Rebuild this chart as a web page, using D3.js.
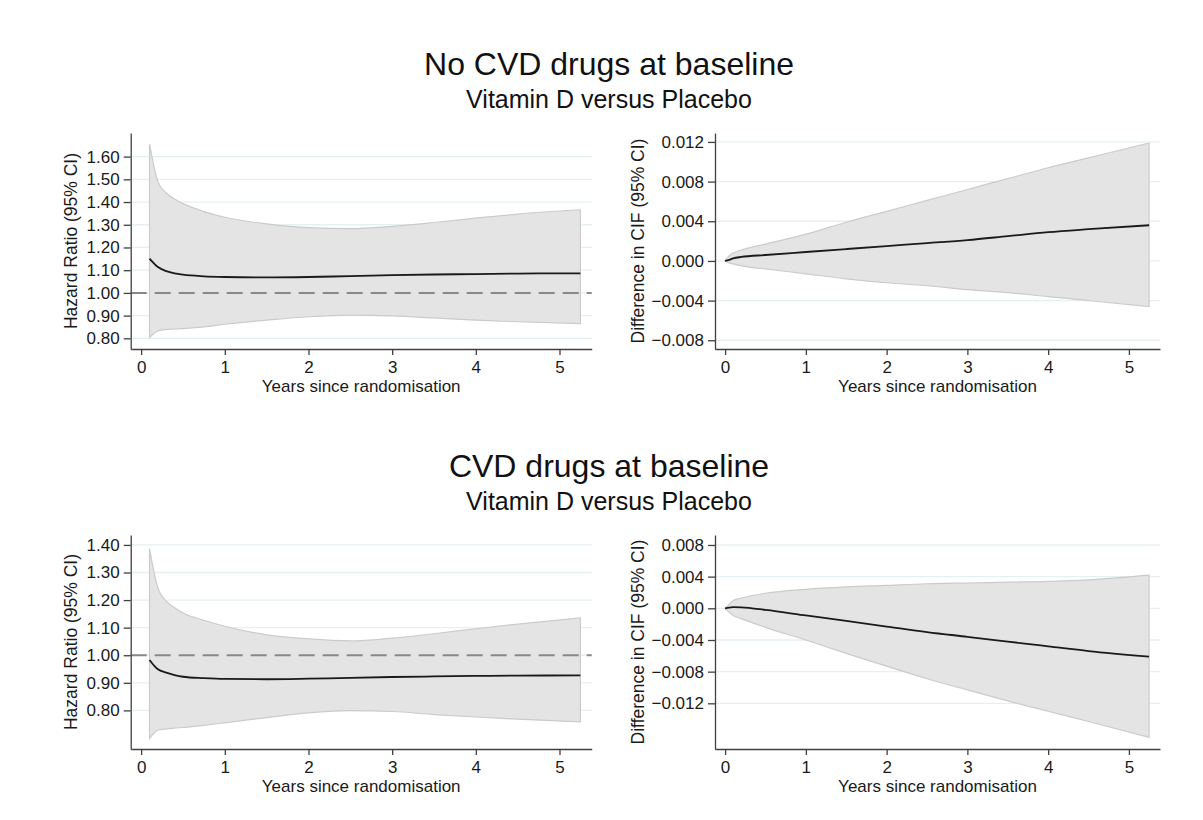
<!DOCTYPE html>
<html>
<head>
<meta charset="utf-8">
<script src="https://cdn.jsdelivr.net/npm/d3@7"></script>
<style>
  body { margin: 0; background: #fff; }
  svg { font-family: "Liberation Sans", Arial, sans-serif; display: block; }
</style>
</head>
<body>
<div class="container"></div>
<script>
// time grids (years since randomisation)
var hrTime  = [0.1, 0.2, 0.3, 0.4, 0.5, 0.75, 1, 1.5, 2, 2.5, 3, 3.5, 4, 4.5, 5.25];
var cifTime = [0, 0.05, 0.1, 0.2, 0.5, 1, 1.5, 2, 2.5, 3, 3.5, 4, 4.5, 5.25];

// No CVD drugs at baseline
var noHrEst   = [1.151, 1.114, 1.096, 1.086, 1.080, 1.073, 1.070, 1.068, 1.070, 1.074, 1.078, 1.081, 1.083, 1.085, 1.086];
var noHrUpper = [1.655, 1.490, 1.440, 1.413, 1.393, 1.358, 1.333, 1.304, 1.287, 1.283, 1.293, 1.310, 1.329, 1.347, 1.366];
var noHrLower = [0.803, 0.833, 0.839, 0.841, 0.843, 0.850, 0.862, 0.880, 0.895, 0.902, 0.899, 0.890, 0.880, 0.873, 0.865];
var noCifEst   = [0, 0.0001, 0.00025, 0.0004, 0.0006, 0.0009, 0.0012, 0.0015, 0.0018, 0.0021, 0.0025, 0.0029, 0.0032, 0.0036];
var noCifUpper = [0, 0.0005, 0.0008, 0.0011, 0.0017, 0.0027, 0.0039, 0.0050, 0.0061, 0.0072, 0.0083, 0.0094, 0.0104, 0.0119];
var noCifLower = [0, -0.0002, -0.0003, -0.0005, -0.0008, -0.0013, -0.0018, -0.0022, -0.0025, -0.0029, -0.0032, -0.0036, -0.0040, -0.0046];

// CVD drugs at baseline
var cvdHrEst   = [0.983, 0.949, 0.937, 0.928, 0.922, 0.917, 0.914, 0.913, 0.915, 0.918, 0.921, 0.923, 0.925, 0.926, 0.927];
var cvdHrUpper = [1.387, 1.244, 1.196, 1.172, 1.153, 1.127, 1.105, 1.074, 1.059, 1.052, 1.062, 1.078, 1.096, 1.113, 1.135];
var cvdHrLower = [0.698, 0.728, 0.733, 0.736, 0.738, 0.746, 0.755, 0.774, 0.791, 0.799, 0.796, 0.785, 0.776, 0.768, 0.758];
var cvdCifEst   = [0, 0.0001, 0.00015, 0.00012, -0.0002, -0.0009, -0.0016, -0.0023, -0.0030, -0.0036, -0.0042, -0.0048, -0.0054, -0.0061];
var cvdCifUpper = [0, 0.0005, 0.0010, 0.0013, 0.0019, 0.0024, 0.0027, 0.0029, 0.0031, 0.0032, 0.0033, 0.0034, 0.0036, 0.0042];
var cvdCifLower = [0, -0.0005, -0.0009, -0.0013, -0.0024, -0.0040, -0.0057, -0.0073, -0.0089, -0.0103, -0.0117, -0.0130, -0.0143, -0.0163];

// axis ticks
var xTicks = [0, 1, 2, 3, 4, 5];
var noHrTicks   = [0.8, 0.9, 1.0, 1.1, 1.2, 1.3, 1.4, 1.5, 1.6];
var cvdHrTicks  = [0.8, 0.9, 1.0, 1.1, 1.2, 1.3, 1.4];
var noCifTicks  = [-0.008, -0.004, 0, 0.004, 0.008, 0.012];
var cvdCifTicks = [-0.012, -0.008, -0.004, 0, 0.004, 0.008];

var titles = ["No CVD drugs at baseline", "CVD drugs at baseline"];
var subtitle = "Vitamin D versus Placebo";
var xLabel = "Years since randomisation";
var hrLabel = "Hazard Ratio (95% CI)";
var cifLabel = "Difference in CIF (95% CI)";

var svg = d3.select(".container").append("svg")
    .attr("width", 1203)
    .attr("height", 820);

function panel(o) {
  var x = d3.scaleLinear().domain([-0.125, 5.385]).range([o.left, o.right]);
  var y = d3.scaleLinear().domain(o.yDomain).range([o.bottom, o.top]);
  var g = svg.append("g");

  // gridlines
  g.selectAll("line.grid")
    .data(o.yTicks)
    .enter().append("line")
    .attr("x1", o.left).attr("x2", o.right)
    .attr("y1", function(d) { return y(d); })
    .attr("y2", function(d) { return y(d); })
    .style("stroke", "#e6eff1")
    .style("stroke-width", 1.3);

  var rows = o.time.map(function(t, i) {
    return { t: t, est: o.est[i], lo: o.lower[i], hi: o.upper[i] };
  });

  var area = d3.area()
    .curve(d3.curveMonotoneX)
    .x(function(d) { return x(d.t); })
    .y0(function(d) { return y(d.lo); })
    .y1(function(d) { return y(d.hi); });

  g.append("path")
    .datum(rows)
    .attr("d", area)
    .style("fill", "#e4e4e4")
    .style("stroke", "#cbcbcb")
    .style("stroke-width", 1.2);

  if (o.ref != null) {
    g.append("line")
      .attr("x1", o.left).attr("x2", o.right)
      .attr("y1", y(o.ref)).attr("y2", y(o.ref))
      .style("stroke", "#888")
      .style("stroke-width", 2)
      .style("stroke-dasharray", "16,8");
  }

  var line = d3.line()
    .curve(d3.curveMonotoneX)
    .x(function(d) { return x(d.t); })
    .y(function(d) { return y(d.est); });

  g.append("path")
    .datum(rows)
    .attr("d", line)
    .style("fill", "none")
    .style("stroke", "#1a1a1a")
    .style("stroke-width", 1.8);

  var xAxis = g.append("g")
    .attr("transform", "translate(0," + o.bottom + ")")
    .call(d3.axisBottom(x).tickValues(xTicks).tickFormat(d3.format("d"))
      .tickSize(6).tickPadding(6).tickSizeOuter(0));

  var yAxis = g.append("g")
    .attr("transform", "translate(" + o.left + ",0)")
    .call(d3.axisLeft(y).tickValues(o.yTicks).tickFormat(d3.format(o.fmt))
      .tickSize(7).tickPadding(4).tickSizeOuter(0));

  [xAxis, yAxis].forEach(function(a) {
    a.select(".domain").style("stroke", "#404040").style("stroke-width", 1.3);
    a.selectAll(".tick line").style("stroke", "#404040").style("stroke-width", 1.3);
    a.selectAll("text").style("font-size", "17px").style("fill", "#1a1a1a")
      .style("font-family", "'Liberation Sans', Arial, sans-serif");
  });

  g.append("text")
    .attr("x", (o.left + o.right) / 2)
    .attr("y", o.bottom + 43)
    .attr("text-anchor", "middle")
    .style("font-size", "17px")
    .style("fill", "#1a1a1a")
    .text(xLabel);

  g.append("text")
    .attr("transform", "translate(" + (o.left - o.labelOff) + "," + ((o.top + o.bottom) / 2) + ") rotate(-90)")
    .attr("text-anchor", "middle")
    .attr("dy", "0.35em")
    .style("font-size", "17.5px")
    .style("fill", "#1a1a1a")
    .text(o.label);
}

function header(i, base) {
  svg.append("text")
    .attr("x", 609).attr("y", base)
    .attr("text-anchor", "middle")
    .style("font-size", "32px")
    .style("fill", "#111")
    .text(titles[i]);
  svg.append("text")
    .attr("x", 609).attr("y", base + 33)
    .attr("text-anchor", "middle")
    .style("font-size", "25px")
    .style("fill", "#111")
    .text(subtitle);
}

header(0, 75);
header(1, 477);

panel({ left: 130.7, right: 591.7, top: 133, bottom: 349, yDomain: [0.753, 1.704],
  yTicks: noHrTicks, fmt: ".2f", ref: 1, label: hrLabel, labelOff: 60,
  time: hrTime, est: noHrEst, upper: noHrUpper, lower: noHrLower });
panel({ left: 715, right: 1160, top: 133, bottom: 349, yDomain: [-0.00888, 0.0129],
  yTicks: noCifTicks, fmt: ".3f", ref: null, label: cifLabel, labelOff: 77,
  time: cifTime, est: noCifEst, upper: noCifUpper, lower: noCifLower });
panel({ left: 130.7, right: 591.7, top: 535, bottom: 749, yDomain: [0.660, 1.436],
  yTicks: cvdHrTicks, fmt: ".2f", ref: 1, label: hrLabel, labelOff: 60,
  time: hrTime, est: cvdHrEst, upper: cvdHrUpper, lower: cvdHrLower });
panel({ left: 715, right: 1160, top: 535, bottom: 749, yDomain: [-0.01777, 0.00926],
  yTicks: cvdCifTicks, fmt: ".3f", ref: null, label: cifLabel, labelOff: 77,
  time: cifTime, est: cvdCifEst, upper: cvdCifUpper, lower: cvdCifLower });
</script>
</body>
</html>
